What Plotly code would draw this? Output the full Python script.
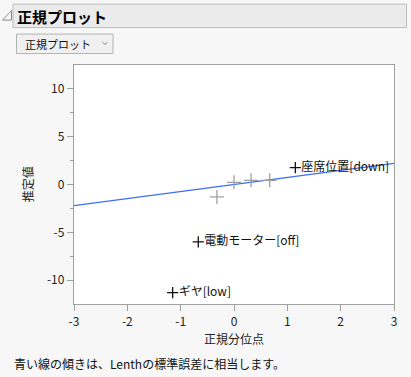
import plotly.graph_objects as go

# ---- data ----
quantiles = [-1.15, -0.67, -0.32, 0.0, 0.32, 0.67, 1.15]
estimates = [-11.3, -6.0, -1.3, 0.23, 0.44, 0.44, 1.76]
labels = ["ギヤ[low]", "電動モーター[off]", "", "", "", "", "座席位置[down]"]
lenth_pse = 0.74
x_ticks = [-3, -2, -1, 0, 1, 2, 3]
y_ticks = [-10, -5, 0, 5, 10]

FONT = "Noto Sans CJK JP, Noto Sans, sans-serif"
W, H = 411, 377
L, R, T, B = 74, 17, 64.5, 73
PW, PH = W - L - R, H - T - B


def px(x):
    return (x - L) / PW


def py(y):
    return (H - B - y) / PH


fig = go.Figure()

# Lenth PSE line
line_x = [x_ticks[0], x_ticks[-1]]
line_y = [lenth_pse * v for v in line_x]
fig.add_trace(go.Scatter(x=line_x, y=line_y, mode="lines",
                         line=dict(color="#3d6cf5", width=1.2),
                         hoverinfo="skip", showlegend=False))

# unlabeled points (gray)
ux = [q for q, l in zip(quantiles, labels) if not l]
uy = [e for e, l in zip(estimates, labels) if not l]
fig.add_trace(go.Scatter(x=ux, y=uy, mode="markers",
                         marker=dict(symbol="cross-thin", size=10,
                                     line=dict(color="#a0a0a0", width=1.3)),
                         showlegend=False))

# labeled points (black)
lx = [q for q, l in zip(quantiles, labels) if l]
ly = [e for e, l in zip(estimates, labels) if l]
lt = [l for l in labels if l]
fig.add_trace(go.Scatter(x=lx, y=ly, mode="markers+text", text=lt,
                         textposition="middle right",
                         textfont=dict(family=FONT, size=12, color="#111111"),
                         marker=dict(symbol="cross-thin", size=8,
                                     line=dict(color="#111111", width=1.3)),
                         showlegend=False))

shapes = [
    # title bar
    dict(type="rect", xref="paper", yref="paper", x0=px(13), x1=px(406.5),
         y0=py(27), y1=py(3.5), fillcolor="#ebebeb",
         line=dict(color="#bdbdbd", width=1), layer="below"),
    # disclosure triangle
    dict(type="path", xref="paper", yref="paper",
         path=f"M {px(11.5)} {py(10)} L {px(11.5)} {py(19.5)} L {px(2.5)} {py(19.5)} Z",
         fillcolor="rgba(0,0,0,0)", line=dict(color="#8a8a8a", width=1)),
    # dropdown button
    dict(type="rect", xref="paper", yref="paper", x0=px(16.5), x1=px(113),
         y0=py(53), y1=py(33.5), fillcolor="#f0f0f0",
         line=dict(color="#b4b4b4", width=1), layer="below"),
    # chevron
    dict(type="path", xref="paper", yref="paper",
         path=f"M {px(102.5)} {py(41.5)} L {px(105)} {py(44)} L {px(107.5)} {py(41.5)}",
         line=dict(color="#8a8a8a", width=1)),
]

annotations = [
    dict(text="<b>正規プロット</b>", xref="paper", yref="paper", x=px(15), y=py(15.5),
         xanchor="left", yanchor="middle", showarrow=False,
         font=dict(family=FONT, size=15, color="#000000")),
    dict(text="正規プロット", xref="paper", yref="paper", x=px(23), y=py(43),
         xanchor="left", yanchor="middle", showarrow=False,
         font=dict(family=FONT, size=11, color="#111111")),
    dict(text="推定値", xref="paper", yref="paper", x=px(27), y=py(184),
         xanchor="center", yanchor="middle", showarrow=False, textangle=-90,
         font=dict(family=FONT, size=12, color="#222222")),
    dict(text="正規分位点", xref="paper", yref="paper", x=px(234), y=py(339),
         xanchor="center", yanchor="middle", showarrow=False,
         font=dict(family=FONT, size=12, color="#222222")),
    dict(text="青い線の傾きは、Lenthの標準誤差に相当します。", xref="paper", yref="paper",
         x=px(12), y=py(364), xanchor="left", yanchor="middle", showarrow=False,
         font=dict(family=FONT, size=12, color="#111111")),
]

fig.update_layout(
    width=W, height=H,
    margin=dict(l=L, r=R, t=T, b=B, pad=0),
    paper_bgcolor="#f7f7f7", plot_bgcolor="#ffffff",
    font=dict(family=FONT, size=12, color="#222222"),
    shapes=shapes, annotations=annotations,
    xaxis=dict(range=[-3, 3], tickvals=x_ticks, ticktext=[str(v) for v in x_ticks],
               showgrid=False, zeroline=False, showline=True, mirror=True,
               linecolor="#a0a0a0", linewidth=1.3, ticks="outside", ticklen=6,
               tickcolor="#a0a0a0", tickfont=dict(size=12, color="#222222")),
    yaxis=dict(range=[-12.5, 12.5], tickvals=y_ticks, ticktext=[str(v) for v in y_ticks],
               showgrid=False, zeroline=False, showline=True, mirror=True,
               linecolor="#a0a0a0", linewidth=1.3, ticks="outside", ticklen=6,
               tickcolor="#a0a0a0", tickfont=dict(size=12, color="#222222"),
               minor=dict(tickvals=[-7.5, -2.5, 2.5, 7.5], ticks="outside",
                          ticklen=3, tickcolor="#a0a0a0")),
)

fig.write_html(
    "out.html",
    config={"displayModeBar": False},
    post_script="document.body.style.margin='0';document.body.style.padding='0';"
                "document.body.style.background='#f7f7f7';"
                "document.body.style.overflow='hidden';",
)
